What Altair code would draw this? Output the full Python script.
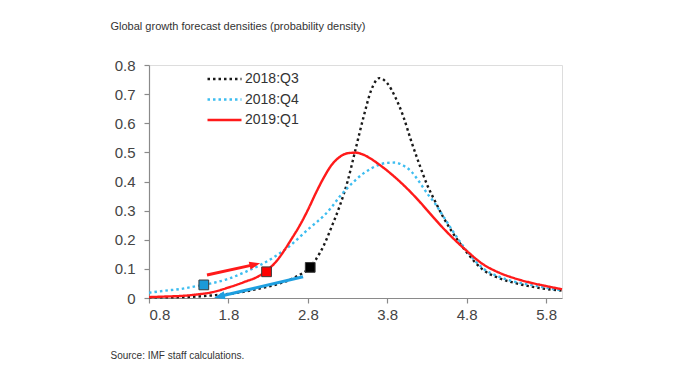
import math
import altair as alt
import pandas as pd

# ---------------- data ----------------
x_grid = [0.8, 1.0, 1.2, 1.4, 1.6, 1.8, 2.0, 2.2, 2.4, 2.6, 2.7, 2.8, 2.9, 3.0, 3.1,
          3.2, 3.3, 3.4, 3.5, 3.6, 3.7, 3.8, 3.9, 4.0, 4.1, 4.2, 4.3, 4.4, 4.5, 4.6,
          4.8, 5.0, 5.2, 5.4, 5.6, 5.8, 6.0]

q3_2018 = [0.002, 0.002, 0.003, 0.005, 0.009, 0.014, 0.022, 0.033, 0.046, 0.066, 0.080,
           0.098, 0.132, 0.180, 0.245, 0.315, 0.400, 0.510, 0.620, 0.715, 0.755, 0.737,
           0.690, 0.625, 0.540, 0.462, 0.390, 0.333, 0.280, 0.234, 0.157, 0.098, 0.069,
           0.052, 0.040, 0.031, 0.025]

q4_2018 = [0.018, 0.025, 0.031, 0.041, 0.051, 0.066, 0.088, 0.113, 0.145, 0.185, 0.210,
           0.235, 0.258, 0.282, 0.312, 0.348, 0.378, 0.405, 0.428, 0.445, 0.458, 0.464,
           0.465, 0.455, 0.435, 0.400, 0.360, 0.325, 0.283, 0.240, 0.162, 0.103, 0.074,
           0.056, 0.045, 0.035, 0.026]

q1_2019 = [0.003, 0.005, 0.007, 0.012, 0.020, 0.036, 0.055, 0.078, 0.125, 0.205, 0.250,
           0.302, 0.360, 0.413, 0.457, 0.484, 0.497, 0.499, 0.492, 0.477, 0.458, 0.437,
           0.414, 0.389, 0.362, 0.333, 0.302, 0.271, 0.241, 0.213, 0.162, 0.117, 0.088,
           0.068, 0.053, 0.041, 0.030]

series = ["2018:Q3", "2018:Q4", "2019:Q1"]

marker_series = ["2018:Q4", "2019:Q1", "2018:Q3"]
marker_x = [1.49, 2.28, 2.83]
marker_y = [0.045, 0.090, 0.105]

arrow_names = ["up", "down"]
arrow_x0 = [1.53, 2.74]
arrow_y0 = [0.079, 0.073]
arrow_x1 = [2.20, 1.62]
arrow_y1 = [0.119, 0.001]

x_ticks = [0.8, 1.8, 2.8, 3.8, 4.8, 5.8]
y_ticks = [0, 0.1, 0.2, 0.3, 0.4, 0.5, 0.6, 0.7, 0.8]

title_text = "Global growth forecast densities (probability density)"
source_text = "Source: IMF staff calculations."

# ---------------- styles ----------------
W, H = 413, 233
X_DOM = [0.8, 6.0]
Y_DOM = [0, 0.8]
FONT = "Liberation Sans"
line_colors = ["#1a1a1a", "#3dbdf0", "#ff1a1a"]
line_dashes = [[2.5, 3], [2.5, 3], [1, 0]]
marker_colors = {"2018:Q3": "#000000", "2018:Q4": "#1b9ad8", "2019:Q1": "#ff0000"}
arrow_colors = {"up": "#ff1a1a", "down": "#1e9fe0"}
HEAD = "M0,0 L-0.9,2.4 L0.9,2.4 Z"
HEAD_SIZE = 81

px_x = W / (X_DOM[1] - X_DOM[0])
px_y = H / (Y_DOM[1] - Y_DOM[0])

# ---------------- tables ----------------
curves = pd.DataFrame(
    [{"series": s, "x": x, "y": y, "k": i}
     for s, vals in zip(series, [q3_2018, q4_2018, q1_2019])
     for i, (x, y) in enumerate(zip(x_grid, vals))]
)

markers = pd.DataFrame({"series": marker_series, "x": marker_x, "y": marker_y})
markers["col"] = markers["series"].map(marker_colors)

shaft_rows, head_rows = [], []
for n, x0, y0, x1, y1 in zip(arrow_names, arrow_x0, arrow_y0, arrow_x1, arrow_y1):
    dxp = (x1 - x0) * px_x
    dyp = (y1 - y0) * px_y
    L = math.hypot(dxp, dyp)
    ang = math.degrees(math.atan2(dxp, dyp)) % 360
    back = 6.0 / L
    xe = x1 - (x1 - x0) * back
    ye = y1 - (y1 - y0) * back
    shaft_rows += [{"arrow": n, "o": 0, "x": x0, "y": y0, "col": arrow_colors[n]},
                   {"arrow": n, "o": 1, "x": xe, "y": ye, "col": arrow_colors[n]}]
    head_rows.append({"arrow": n, "x": x1, "y": y1, "angle": ang, "col": arrow_colors[n]})
shafts = pd.DataFrame(shaft_rows)
heads = pd.DataFrame(head_rows)

# ---------------- encodings ----------------
X = alt.X(
    "x:Q",
    scale=alt.Scale(domain=X_DOM, nice=False, zero=False),
    axis=alt.Axis(
        values=x_ticks, format=".1f", grid=False,
        domainColor="#8a8a8a", tickColor="#8a8a8a", domainWidth=1.2, tickWidth=1.2,
        tickSize=5, labelFontSize=15, labelColor="#444444", labelFont=FONT,
        labelPadding=4,
        title=source_text, titleX=-39, titleY=60, titleAlign="left",
        titleAnchor="start", titleBaseline="alphabetic", titleFontSize=10,
        titleFontWeight="normal", titleFont=FONT, titleColor="#333333",
    ),
)
Y = alt.Y(
    "y:Q",
    scale=alt.Scale(domain=Y_DOM, nice=False),
    axis=alt.Axis(
        values=y_ticks, format=".1~f", grid=False,
        domainColor="#8a8a8a", tickColor="#8a8a8a", domainWidth=1.2, tickWidth=1.2,
        tickSize=5, labelFontSize=15, labelColor="#444444", labelFont=FONT,
        labelPadding=9,
        title=title_text, titleAngle=0, titleX=-39, titleY=-36, titleAlign="left",
        titleAnchor="start", titleBaseline="alphabetic", titleFontSize=11,
        titleFontWeight="normal", titleFont=FONT, titleColor="#333333",
    ),
)

leg = alt.Legend(
    orient="none", legendX=57, legendY=5, title=None, padding=0,
    symbolType="stroke", symbolSize=1156, symbolStrokeWidth=2.4,
    labelFontSize=14, labelFont=FONT, labelColor="#333333",
    labelOffset=2, rowPadding=2.5, clipHeight=18,
)

lines = alt.Chart(curves).mark_line(strokeWidth=2.4, interpolate="monotone").encode(
    x=X, y=Y,
    color=alt.Color(
        "series:N", sort=series,
        scale=alt.Scale(domain=series, range=line_colors),
        legend=leg,
    ),
    strokeDash=alt.StrokeDash(
        "series:N", sort=series,
        scale=alt.Scale(domain=series, range=line_dashes),
        legend=leg,
    ),
    order="k:Q",
)

shaft_layer = alt.Chart(shafts).mark_line(strokeWidth=3, strokeCap="butt").encode(
    x=X, y=Y, detail="arrow:N", order="o:Q",
    stroke=alt.Stroke("col:N", scale=None),
)

head_layer = alt.Chart(heads).mark_point(
    shape=HEAD, filled=True, size=HEAD_SIZE, opacity=1, strokeWidth=0
).encode(
    x=X, y=Y,
    fill=alt.Fill("col:N", scale=None),
    angle=alt.Angle("angle:Q", scale=None),
)

marker_layer = alt.Chart(markers).mark_square(
    size=95, opacity=1, stroke="#3a3a3a", strokeWidth=1
).encode(
    x=X, y=Y,
    fill=alt.Fill("col:N", scale=None),
)

chart = alt.layer(lines, shaft_layer, head_layer, marker_layer).properties(
    width=W, height=H,
    autosize=alt.AutoSizeParams(type="none"),
    padding={"left": 141, "top": 57, "right": 110, "bottom": 63},
).configure_view(stroke=None).configure(font=FONT, background="white")

chart.save("out.html", embed_options={"renderer": "svg", "actions": False})
